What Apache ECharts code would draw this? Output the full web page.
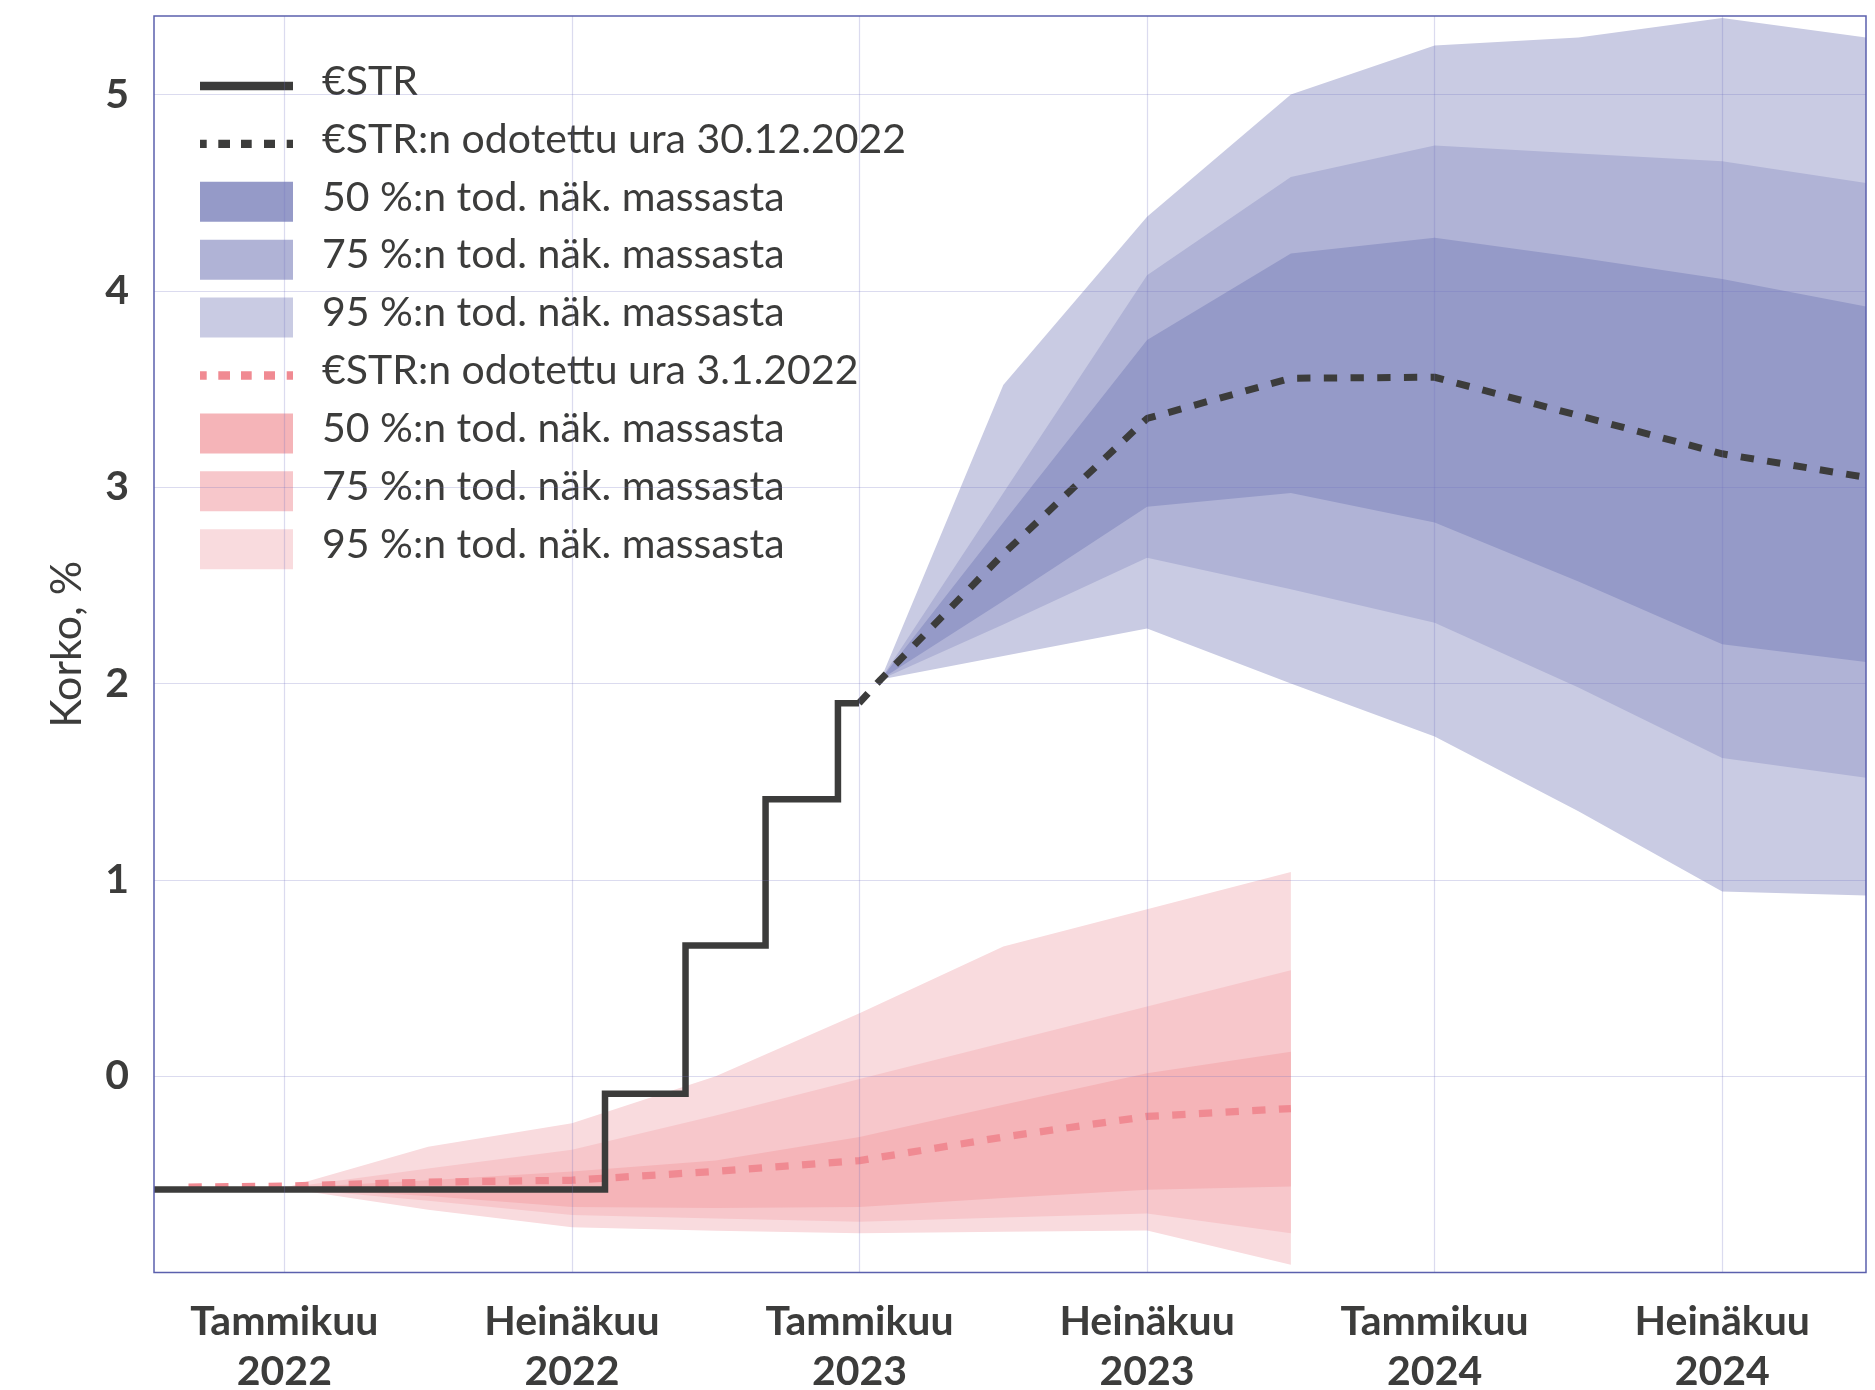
<!DOCTYPE html>
<html>
<head>
<meta charset="utf-8">
<script src="https://cdn.jsdelivr.net/npm/echarts@6/dist/echarts.min.js"></script>
<style>
html,body{margin:0;padding:0;background:#ffffff;}
#chart{width:1875px;height:1390px;}
</style>
</head>
<body>
<div id="chart"></div>
<script>
// x values: months since 1 January 2022 (0 = Tammikuu 2022)
const xTickValues = [0, 6, 12, 18, 24, 30];
const xTickLabels = ['Tammikuu\n2022', 'Heinäkuu\n2022', 'Tammikuu\n2023', 'Heinäkuu\n2023', 'Tammikuu\n2024', 'Heinäkuu\n2024'];
const yTickValues = [0, 1, 2, 3, 4, 5];

// €STR (realised, step line)
const estrX = [-2.72, 6.69, 8.37, 10.04, 11.55, 11.99];
const estrY = [-0.577, -0.09, 0.665, 1.41, 1.90, 1.90];

// Expected path 30.12.2022
const pathDecX = [11.99, 12.44, 15, 18, 21, 24, 27, 30, 33];
const pathDecY = [1.90, 2.02, 2.66, 3.35, 3.555, 3.56, 3.365, 3.17, 3.05];

// Probability bands 30.12.2022
const bandDecX = [12.44, 15, 18, 21, 24, 27, 30, 33];
const dec95Upper = [2.02, 3.52, 4.377, 5.00, 5.25, 5.29, 5.39, 5.29];
const dec75Upper = [2.02, 2.97, 4.08, 4.58, 4.74, 4.70, 4.66, 4.55];
const dec50Upper = [2.02, 2.82, 3.75, 4.19, 4.27, 4.17, 4.06, 3.92];
const dec50Lower = [2.02, 2.42, 2.90, 2.97, 2.82, 2.52, 2.20, 2.11];
const dec75Lower = [2.02, 2.30, 2.64, 2.48, 2.31, 1.98, 1.62, 1.52];
const dec95Lower = [2.02, 2.14, 2.28, 2.00, 1.73, 1.35, 0.94, 0.92];

// Expected path 3.1.2022
const pathJanX = [-2.0, 0, 3, 6, 9, 12, 15, 18, 21];
const pathJanY = [-0.565, -0.56, -0.54, -0.53, -0.485, -0.43, -0.31, -0.205, -0.165];

// Probability bands 3.1.2022
const bandJanX = [0, 3, 6, 9, 12, 15, 18, 21];
const jan95Upper = [-0.57, -0.36, -0.24, 0.00, 0.32, 0.66, 0.85, 1.04];
const jan75Upper = [-0.57, -0.47, -0.375, -0.20, -0.015, 0.17, 0.355, 0.54];
const jan50Upper = [-0.57, -0.53, -0.486, -0.43, -0.31, -0.145, 0.015, 0.125];
const jan50Lower = [-0.57, -0.61, -0.667, -0.672, -0.667, -0.62, -0.578, -0.562];
const jan75Lower = [-0.57, -0.635, -0.707, -0.725, -0.741, -0.72, -0.70, -0.80];
const jan95Lower = [-0.57, -0.68, -0.769, -0.787, -0.80, -0.793, -0.786, -0.961];

// Legend
const legendKeys = ['estr', 'pathDec', 'b50', 'b75', 'b95', 'pathJan', 'r50', 'r75', 'r95'];
const legendLabels = [
  '€STR',
  '€STR:n odotettu ura 30.12.2022',
  '50 %:n tod. näk. massasta',
  '75 %:n tod. näk. massasta',
  '95 %:n tod. näk. massasta',
  '€STR:n odotettu ura 3.1.2022',
  '50 %:n tod. näk. massasta',
  '75 %:n tod. näk. massasta',
  '95 %:n tod. näk. massasta'
];

// ---------- styling ----------
const TEXT = '#3c3c3b';
const FONT = 'Lato';
const colors = {
  estr: '#3c3c3b', pathDec: '#3c3c3b', pathJan: '#f08a92',
  b95: '#c9cbe3', b75: '#b0b3d6', b50: '#959ac8',
  r95: '#f9dbde', r75: '#f7c7cb', r50: '#f5b4b8'
};
const GRID_LINE = 'rgba(110,110,190,0.25)';
const DASH = [13.3, 13.4];

function pairs(xs, ys) { return xs.map((x, i) => [x, ys[i]]); }

// band between lower and upper, drawn as one polygon through the axis scales
function band(key, xs, lower, upper) {
  return {
    name: key, type: 'custom', silent: true,
    itemStyle: { color: colors[key] },
    data: [[xs[0], lower[0]]],
    encode: { x: 0, y: 1 },
    renderItem: function (params, api) {
      const pts = [];
      for (let i = 0; i < xs.length; i++) pts.push(api.coord([xs[i], upper[i]]));
      for (let i = xs.length - 1; i >= 0; i--) pts.push(api.coord([xs[i], lower[i]]));
      return { type: 'polygon', shape: { points: pts }, style: { fill: colors[key] } };
    }
  };
}

const series = [
  band('r95', bandJanX, jan95Lower, jan95Upper),
  band('r75', bandJanX, jan75Lower, jan75Upper),
  band('r50', bandJanX, jan50Lower, jan50Upper),
  band('b95', bandDecX, dec95Lower, dec95Upper),
  band('b75', bandDecX, dec75Lower, dec75Upper),
  band('b50', bandDecX, dec50Lower, dec50Upper),
  {
    name: 'pathJan', type: 'line', data: pairs(pathJanX, pathJanY), symbol: 'none', silent: true,
    itemStyle: { color: colors.pathJan },
    lineStyle: { color: colors.pathJan, width: 7.3, type: DASH, cap: 'butt' }
  },
  {
    name: 'pathDec', type: 'line', data: pairs(pathDecX, pathDecY), symbol: 'none', silent: true,
    itemStyle: { color: colors.pathDec },
    lineStyle: { color: colors.pathDec, width: 7, type: DASH, cap: 'butt' }
  },
  {
    name: 'estr', type: 'line', step: 'end', data: pairs(estrX, estrY), symbol: 'none', silent: true,
    itemStyle: { color: colors.estr },
    lineStyle: { color: colors.estr, width: 6.5, cap: 'butt', join: 'miter' },
    markLine: {
      silent: true, animation: false, symbol: ['none', 'none'],
      label: { show: false }, emphasis: { disabled: true },
      lineStyle: { color: GRID_LINE, width: 1.2, type: 'solid' },
      data: [
        ...xTickValues.map(v => ({ xAxis: v })),
        ...yTickValues.map(v => ({ yAxis: v }))
      ]
    }
  }
];

const SOLID_ICON = 'path://M0,0h93v8.3h-93z';
const DOT_ICON = 'path://M0,0h6.7v8.3h-6.7z M18.3,0h11.7v8.3h-11.7z M41,0h10.7v8.3h-10.7z M64,0h11v8.3h-11z M86.7,0h6.3v8.3h-6.3z';
const legendIcons = { estr: SOLID_ICON, pathDec: DOT_ICON, pathJan: DOT_ICON };

const option = {
  animation: false,
  backgroundColor: '#ffffff',
  grid: {
    left: 154, right: 9, top: 16, bottom: 117.5,
    outerBoundsMode: 'none', containLabel: false,
    show: true, borderColor: '#5b60ad', borderWidth: 1.5, z: 10
  },
  legend: {
    orient: 'vertical', left: 200, top: 61, padding: 0,
    itemWidth: 93, itemHeight: 40, itemGap: 12.4,
    selectedMode: false,
    itemStyle: { borderWidth: 0 },
    textStyle: {
      fontFamily: FONT, fontSize: 41, color: TEXT,
      rich: {
        g: { width: 24 },
        t: { fontFamily: FONT, fontSize: 41, color: TEXT, padding: [0, 0, 9, 0] }
      }
    },
    formatter: name => '{g|}{t|' + legendLabels[legendKeys.indexOf(name)] + '}',
    data: legendKeys.map(k => ({
      name: k,
      icon: legendIcons[k] || 'rect',
      itemStyle: { color: colors[k], borderWidth: 0 }
    }))
  },
  xAxis: {
    type: 'value', min: -2.72, max: 33,
    axisLine: { show: false }, axisTick: { show: false }, splitLine: { show: false },
    axisLabel: {
      customValues: xTickValues,
      formatter: v => { const i = xTickValues.indexOf(v); return i >= 0 ? xTickLabels[i] : ''; },
      fontFamily: FONT, fontSize: 41, fontWeight: 'bold', color: TEXT, lineHeight: 50, margin: 24
    }
  },
  yAxis: {
    type: 'value', min: -1, max: 5.4, interval: 1,
    axisLine: { show: false }, axisTick: { show: false }, splitLine: { show: false },
    axisLabel: {
      showMinLabel: false, showMaxLabel: false,
      formatter: v => String(v),
      fontFamily: FONT, fontSize: 41, fontWeight: 'bold', color: TEXT, margin: 25
    },
    name: 'Korko, %', nameLocation: 'middle', nameRotate: 90, nameGap: 65,
    nameTextStyle: { fontFamily: FONT, fontSize: 43, color: TEXT }
  },
  series: series
};

const chart = echarts.init(document.getElementById('chart'), null, { renderer: 'canvas' });
chart.setOption(option);
</script>
</body>
</html>
